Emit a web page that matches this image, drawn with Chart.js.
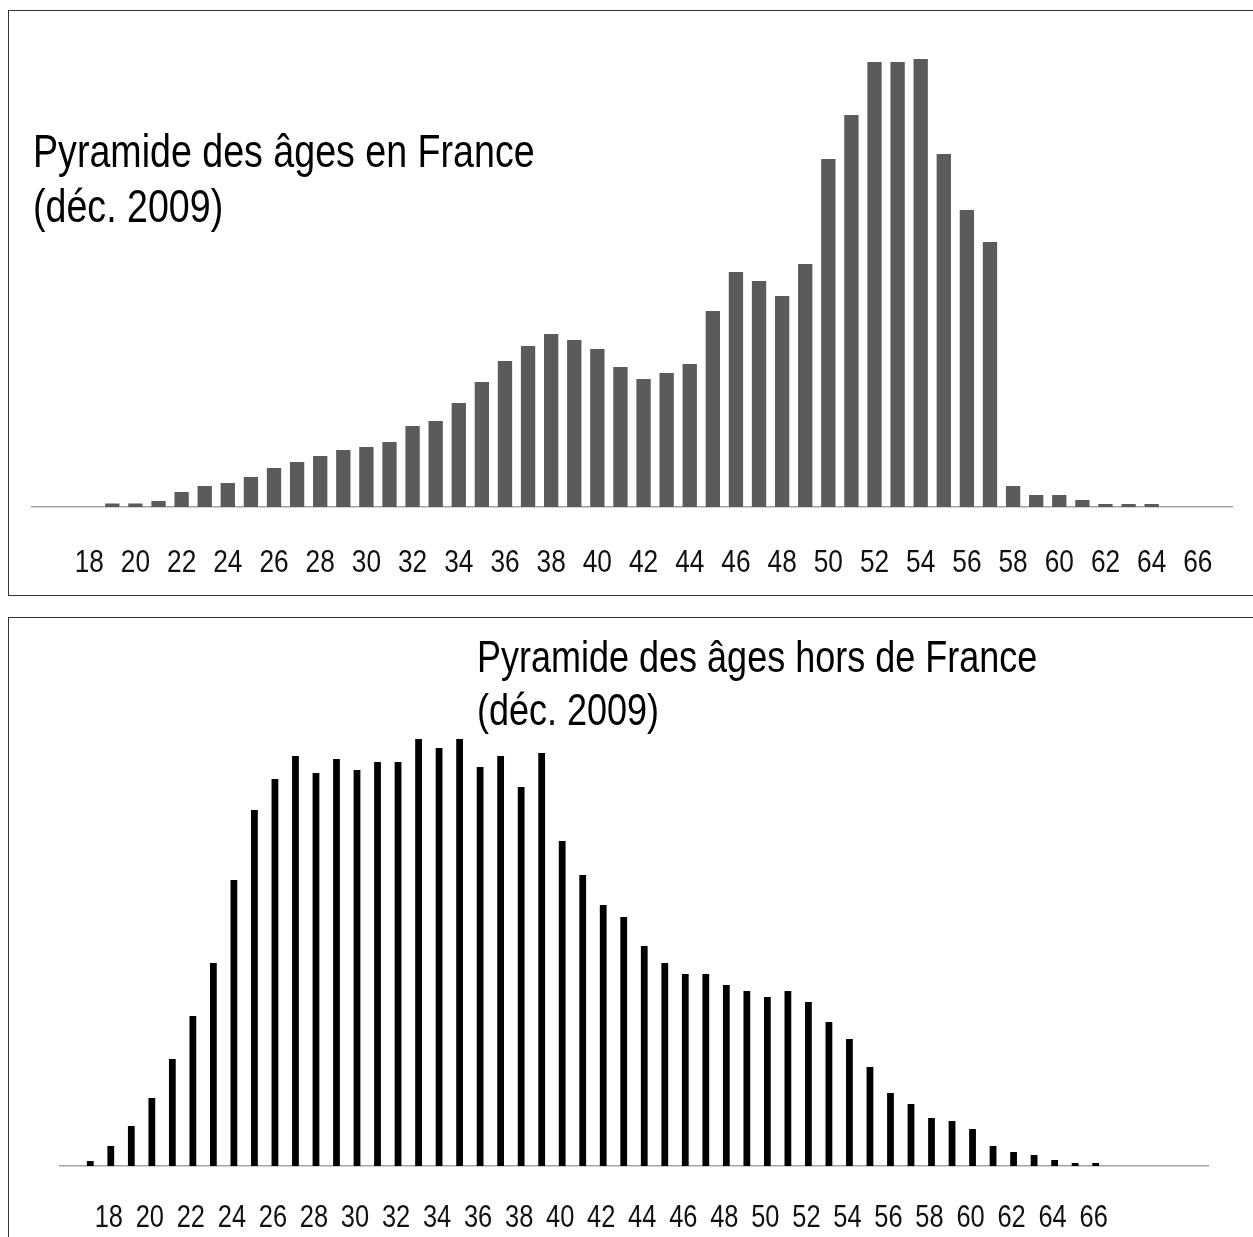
<!DOCTYPE html>
<html>
<head>
<meta charset="utf-8">
<title>Pyramide des âges</title>
<script src="https://cdn.jsdelivr.net/npm/chart.js@4.4.1/dist/chart.umd.min.js"></script>
<style>
    body { margin: 0; background: #fff; width: 1253px; height: 1237px; overflow: hidden; position: relative; font-family: "Liberation Sans", Arial, sans-serif; }
    .box { position: absolute; left: 8px; width: 1270px; border: 1px solid #333; box-sizing: border-box; }
    #box-fr { top: 10px; height: 586px; }
    #box-hors { top: 617px; height: 660px; }
    canvas { position: absolute; left: 0; }
    .title { position: absolute; color: #000; white-space: nowrap; transform-origin: 0 0; transform: scaleX(0.8); }
    #title-fr { left: 33px; top: 123px; font-size: 47px; line-height: 55px; }
    #title-hors { left: 477px; top: 630px; font-size: 45px; line-height: 53px; }
</style>
</head>
<body>
<div class="box" id="box-fr"></div>
<div class="box" id="box-hors"></div>
<canvas id="chart-fr" width="1253" height="600" style="top:0"></canvas>
<canvas id="chart-hors" width="1253" height="620" style="top:617px"></canvas>
<div class="title" id="title-fr">Pyramide des âges en France<br>(déc. 2009)</div>
<div class="title" id="title-hors">Pyramide des âges hors de France<br>(déc. 2009)</div>

<script>
// Pyramide des âges - France / hors de France (déc. 2009)

// ages shown on each axis
const agesFrance = [16, 17, 18, 19, 20, 21, 22, 23, 24, 25, 26, 27, 28, 29, 30, 31, 32, 33, 34, 35, 36, 37, 38, 39, 40, 41,
    42, 43, 44, 45, 46, 47, 48, 49, 50, 51, 52, 53, 54, 55, 56, 57, 58, 59, 60, 61, 62, 63, 64, 65, 66, 67];
const agesHors = [16, 17, 18, 19, 20, 21, 22, 23, 24, 25, 26, 27, 28, 29, 30, 31, 32, 33, 34, 35, 36, 37, 38, 39, 40, 41,
    42, 43, 44, 45, 46, 47, 48, 49, 50, 51, 52, 53, 54, 55, 56, 57, 58, 59, 60, 61, 62, 63, 64, 65, 66, 67, 68, 69, 70, 71];

// only these get a label
const tickLabels = ['18', '20', '22', '24', '26', '28', '30', '32', '34', '36', '38', '40', '42',
    '44', '46', '48', '50', '52', '54', '56', '58', '60', '62', '64', '66'];

// effectifs (arbitrary units)
const effectifFrance = [0, 0, 0, 3.5, 3.5, 6, 15, 21, 24, 30, 39, 45, 51, 57, 60, 65, 81, 86, 104, 125, 146, 161,
    173, 167, 158, 140, 128, 134, 143, 196, 235, 226, 211, 243, 348, 392, 445, 445, 460, 353, 297, 265,
    21, 12, 12, 7, 3, 3, 3, 0, 0, 0];
const effectifHors = [0, 5, 20, 40, 68, 107, 150, 203, 286, 356, 387, 410, 393, 407, 396, 404, 404, 427, 418, 427,
    399, 410, 379, 413, 325, 291, 261, 249, 220, 203, 192, 192, 181, 175, 169, 175, 164, 144, 127, 99,
    73, 62, 48, 45, 37, 20, 14, 11, 6, 3, 3, 0, 0, 0, 0, 0];

// no narrow font installed, so the x labels get squeezed by hand
const narrowTicks = {
    id: 'narrowTicks',
    afterDraw(chart, args, o) {
        const x = chart.scales.x;
        const ctx = chart.ctx;
        ctx.save();
        ctx.fillStyle = '#111';
        ctx.font = o.size + 'px "Liberation Sans", Arial, sans-serif';
        ctx.textAlign = 'center';
        ctx.textBaseline = 'alphabetic';
        chart.data.labels.forEach((lab, i) => {
            if (!tickLabels.includes(lab)) return;
            ctx.save();
            ctx.translate(x.getPixelForTick(i) + o.shift, x.top + o.drop);
            ctx.scale(0.82, 1);
            ctx.fillText(lab, 0, 0);
            ctx.restore();
        });
        ctx.restore();
    }
};

function makeChart(id, ages, values, opts) {
    const ctx = document.getElementById(id).getContext('2d');
    return new Chart(ctx, {
        type: 'bar',
        data: {
            labels: ages.map(String),
            datasets: [{
                data: values,
                backgroundColor: opts.color,
                borderWidth: 0,
                barPercentage: opts.barPct,
                categoryPercentage: 1
            }]
        },
        options: {
            responsive: false,
            devicePixelRatio: 1,
            animation: false,
            layout: { padding: opts.padding },
            plugins: {
                legend: { display: false },
                tooltip: { enabled: false },
                narrowTicks: opts.ticks
            },
            scales: {
                x: {
                    grid: { display: false },
                    border: { display: true, color: '#a3a3a3', width: 1.5 },
                    afterFit: (scale) => { scale.height = opts.axisHeight; },
                    ticks: { display: false }
                },
                y: { display: false, min: 0, max: opts.yMax }
            }
        },
        plugins: [narrowTicks]
    });
}

makeChart('chart-fr', agesFrance, effectifFrance, {
    color: '#5b5b5b',
    barPct: 0.62,
    padding: { left: 31.5, right: 20.5, top: 59, bottom: 13 },
    axisHeight: 80,
    ticks: { size: 32, drop: 65, shift: 0 },
    yMax: 448
});

makeChart('chart-hors', agesHors, effectifHors, {
    color: '#000',
    barPct: 0.33,
    padding: { left: 59.5, right: 44.5, top: 103, bottom: 11 },
    axisHeight: 60,
    ticks: { size: 31, drop: 61, shift: -2 },
    yMax: 446
});
</script>
</body>
</html>
